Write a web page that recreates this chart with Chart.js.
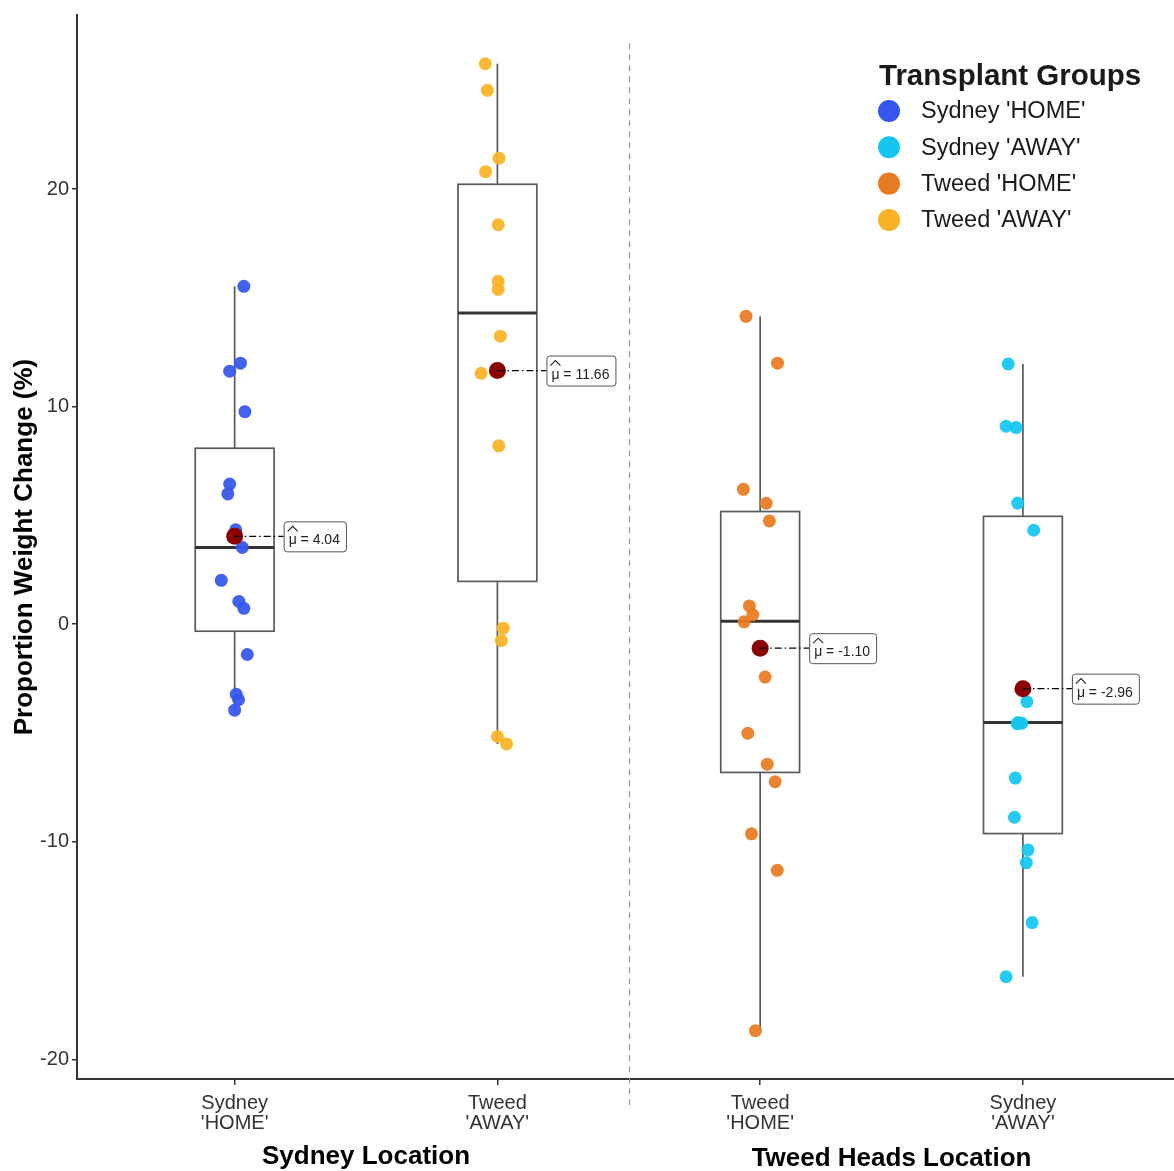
<!DOCTYPE html>
<html>
<head>
<meta charset="utf-8">
<script src="https://cdn.jsdelivr.net/npm/chart.js@4.4.1/dist/chart.umd.min.js"></script>
<style>
  html, body { margin: 0; padding: 0; background: #ffffff; }
  #wrap { width: 1174px; height: 1171px; }
</style>
</head>
<body>
<div id="wrap"><canvas id="chart" width="1174" height="1171"></canvas></div>
<script>
// Category order along the x axis
const categoryLabels = [["Sydney", "'HOME'"], ["Tweed", "'AWAY'"], ["Tweed", "'HOME'"], ["Sydney", "'AWAY'"]];
const locationTitles = ["Sydney Location", "Tweed Heads Location"];

// Legend groups (legend order) and the category slot each one sits in
const groupNames = ["Sydney 'HOME'", "Sydney 'AWAY'", "Tweed 'HOME'", "Tweed 'AWAY'"];
const groupSlot = [1, 4, 3, 2];
const groupColors = ["#3557EC", "#14C6F0", "#E77B22", "#FBB325"];

// Individual weight changes (%) with their horizontal jitter (category units)
const sydneyHome = [15.53, 12.0, 11.63, 9.77, 6.44, 5.99, 4.34, 3.53, 2.02, 1.05, 0.73, -1.39, -3.22, -3.47, -3.95];
const sydneyHomeJitter = [0.035, 0.022, -0.019, 0.039, -0.019, -0.026, 0.004, 0.029, -0.051, 0.016, 0.035, 0.048, 0.006, 0.015, 0.0];

const sydneyAway = [11.96, 9.10, 9.04, 5.57, 4.32, -3.56, -4.52, -4.57, -4.55, -7.07, -8.87, -10.37, -10.96, -13.71, -16.20];
const sydneyAwayJitter = [-0.056, -0.064, -0.026, -0.020, 0.041, 0.015, -0.018, -0.022, -0.004, -0.029, -0.032, 0.019, 0.013, 0.035, -0.064];

const tweedHome = [14.15, 12.0, 6.20, 5.56, 4.75, 0.84, 0.44, 0.11, -2.43, -5.01, -6.43, -7.24, -9.63, -11.31, -18.68];
const tweedHomeJitter = [-0.054, 0.066, -0.064, 0.023, 0.035, -0.041, -0.028, -0.061, 0.019, -0.047, 0.027, 0.057, -0.033, 0.065, -0.018];

const tweedAway = [25.76, 24.54, 21.42, 20.80, 18.36, 15.76, 15.39, 13.24, 11.53, 8.20, -0.18, -0.75, -5.16, -5.50];
const tweedAwayJitter = [-0.046, -0.038, 0.006, -0.045, 0.003, 0.003, 0.003, 0.011, -0.062, 0.005, 0.022, 0.015, 0.0, 0.035];

// Box summaries, in category order
const whiskerLow  = [-3.95, -5.50, -18.68, -16.20];
const quartile1   = [-0.32, 1.97, -6.81, -9.62];
const medians     = [3.53, 14.31, 0.14, -4.52];
const quartile3   = [8.09, 20.22, 5.18, 4.96];
const whiskerHigh = [15.53, 25.76, 14.15, 11.96];
const groupMeans  = [4.04, 11.66, -1.10, -2.96];

// Y axis ticks
const yTicks = [-20, -10, 0, 10, 20];

const seriesValues = [sydneyHome, sydneyAway, tweedHome, tweedAway];
const seriesJitter = [sydneyHomeJitter, sydneyAwayJitter, tweedHomeJitter, tweedAwayJitter];

const datasets = groupNames.map((name, g) => ({
  label: name,
  data: seriesValues[g].map((v, i) => ({ x: groupSlot[g] + seriesJitter[g][i], y: v })),
  backgroundColor: groupColors[g] + 'EE',
  borderWidth: 0,
  pointRadius: 6.5,
  order: 2
}));
datasets.push({
  label: 'mean',
  data: groupMeans.map((m, i) => ({ x: i + 1, y: m })),
  backgroundColor: '#8B0000',
  borderWidth: 0,
  pointRadius: 8.5,
  order: 1
});

const FONT = "'Liberation Sans', Arial, sans-serif";

const overlay = {
  id: 'overlay',
  beforeDatasetsDraw(chart) {
    const ctx = chart.ctx;
    const xs = chart.scales.x, ys = chart.scales.y;
    ctx.save();
    // divider between the two locations
    ctx.strokeStyle = '#9a9a9a';
    ctx.lineWidth = 1.2;
    ctx.setLineDash([6, 5]);
    const dx = Math.round(xs.getPixelForValue(2.5)) + 0.5;
    ctx.beginPath();
    ctx.moveTo(dx, ys.getPixelForValue(26.7));
    ctx.lineTo(dx, ys.getPixelForValue(-22.1));
    ctx.stroke();
    ctx.setLineDash([]);

    // boxes and whiskers
    categoryLabels.forEach((c, i) => {
      const cx = xs.getPixelForValue(i + 1);
      const hw = xs.getPixelForValue(i + 1.15) - cx;
      const yq1 = ys.getPixelForValue(quartile1[i]);
      const yq3 = ys.getPixelForValue(quartile3[i]);
      const ymed = ys.getPixelForValue(medians[i]);
      ctx.strokeStyle = '#5a5a5a';
      ctx.lineWidth = 1.7;
      ctx.beginPath();
      ctx.moveTo(cx, ys.getPixelForValue(whiskerHigh[i]));
      ctx.lineTo(cx, yq3);
      ctx.moveTo(cx, yq1);
      ctx.lineTo(cx, ys.getPixelForValue(whiskerLow[i]));
      ctx.stroke();
      ctx.strokeRect(cx - hw, yq3, hw * 2, yq1 - yq3);
      ctx.strokeStyle = '#333333';
      ctx.lineWidth = 3;
      ctx.beginPath();
      ctx.moveTo(cx - hw, ymed);
      ctx.lineTo(cx + hw, ymed);
      ctx.stroke();
    });
    ctx.restore();
  },
  afterDatasetsDraw(chart) {
    const ctx = chart.ctx;
    const xs = chart.scales.x, ys = chart.scales.y;
    ctx.save();
    // mean labels
    groupMeans.forEach((m, i) => {
      const cx = xs.getPixelForValue(i + 1);
      const cy = ys.getPixelForValue(m);
      const txt = m.toFixed(2);
      ctx.font = '14px ' + FONT;
      const muW = ctx.measureText('\u03BC').width;
      const restW = ctx.measureText(' = ' + txt).width;
      const boxX = cx + 49;
      const boxW = muW + restW + 11;
      const boxH = 30;
      const boxY = cy - 15;
      ctx.strokeStyle = '#000';
      ctx.lineWidth = 1.3;
      ctx.setLineDash([7, 3, 1.5, 3]);
      ctx.beginPath();
      ctx.moveTo(cx, cy);
      ctx.lineTo(boxX, cy);
      ctx.stroke();
      ctx.setLineDash([]);
      ctx.fillStyle = '#fff';
      ctx.strokeStyle = '#555';
      ctx.lineWidth = 1;
      ctx.beginPath();
      ctx.roundRect(boxX + 0.5, boxY + 0.5, boxW, boxH, 3);
      ctx.fill();
      ctx.stroke();
      ctx.fillStyle = '#222';
      ctx.textAlign = 'left';
      ctx.textBaseline = 'alphabetic';
      const tx = boxX + 5;
      const ty = cy + 8;
      ctx.fillText('\u03BC', tx, ty);
      ctx.fillText(' = ' + txt, tx + muW, ty);
      // hat over mu
      ctx.strokeStyle = '#222';
      ctx.lineWidth = 1.1;
      ctx.beginPath();
      ctx.moveTo(tx - 1, ty - 13);
      ctx.lineTo(tx + muW / 2, ty - 18);
      ctx.lineTo(tx + muW + 1, ty - 13);
      ctx.stroke();
    });

    // legend
    ctx.fillStyle = '#1a1a1a';
    ctx.font = 'bold 29.5px ' + FONT;
    ctx.textAlign = 'left';
    ctx.textBaseline = 'middle';
    ctx.fillText('Transplant Groups', 879, 77);
    ctx.font = '23.5px ' + FONT;
    groupNames.forEach((name, g) => {
      const y = 111 + g * 36.3;
      ctx.fillStyle = groupColors[g];
      ctx.beginPath();
      ctx.arc(889, y, 11, 0, Math.PI * 2);
      ctx.fill();
      ctx.fillStyle = '#1a1a1a';
      ctx.fillText(name, 921, y + 1);
    });

    // axis titles
    ctx.font = 'bold 26px ' + FONT;
    ctx.textAlign = 'center';
    ctx.fillStyle = '#000';
    ctx.fillText(locationTitles[0], xs.getPixelForValue(1.5), 1157);
    ctx.fillText(locationTitles[1], xs.getPixelForValue(3.5), 1159);
    ctx.translate(25, (chart.chartArea.top + chart.chartArea.bottom) / 2);
    ctx.rotate(-Math.PI / 2);
    ctx.fillText('Proportion Weight Change (%)', 0, 0);
    ctx.restore();
  }
};

new Chart(document.getElementById('chart'), {
  type: 'scatter',
  data: { datasets },
  options: {
    responsive: false,
    animation: false,
    layout: { autoPadding: false, padding: { top: 12, right: 0, left: 0, bottom: 0 } },
    scales: {
      x: {
        type: 'linear',
        min: 0.4,
        max: 4.575,
        afterFit(s) { s.height = 92; },
        afterBuildTicks(s) { s.ticks = categoryLabels.map((c, i) => ({ value: i + 1 })); },
        ticks: {
          callback: (v, i) => categoryLabels[i],
          font: { family: FONT, size: 20, lineHeight: 1.02 },
          color: '#333',
          padding: 8,
          maxRotation: 0
        },
        grid: { drawOnChartArea: false, tickLength: 6, color: '#333', lineWidth: 1.5 },
        border: { display: true, color: '#333', width: 2 }
      },
      y: {
        min: -20.9,
        max: 28,
        afterFit(s) { s.width = 77; },
        afterBuildTicks(s) { s.ticks = yTicks.map(v => ({ value: v })); },
        ticks: {
          font: { family: FONT, size: 20 },
          color: '#333',
          padding: 3
        },
        grid: { drawOnChartArea: false, tickLength: 5, color: '#333', lineWidth: 1.5 },
        border: { display: true, color: '#333', width: 2 }
      }
    },
    plugins: { legend: { display: false }, tooltip: { enabled: false } }
  },
  plugins: [overlay]
});
</script>
</body>
</html>
